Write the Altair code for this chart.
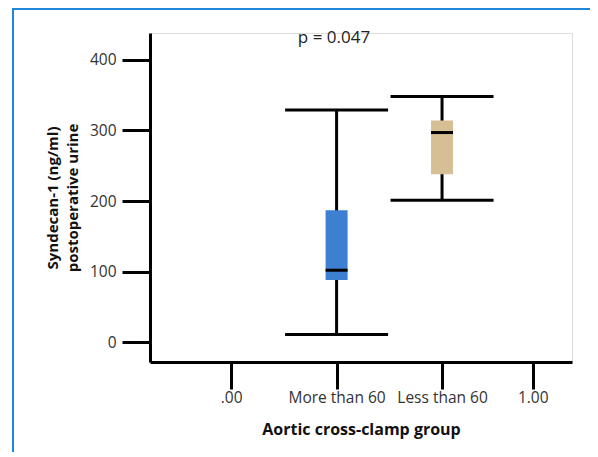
import altair as alt
import pandas as pd

# ---- data ----
groups = ["More than 60", "Less than 60"]
group_pos = [1, 2]
whisker_low = [11, 201]
q1 = [88, 238]
median = [102, 297]
q3 = [187, 314]
whisker_high = [329, 348]
box_colors = ["#3d7fd1", "#d6be95"]

x_tick_labels = [".00", "More than 60", "Less than 60", "1.00"]
x_tick_values = [0, 1, 2, 2.86]
y_tick_values = [0, 100, 200, 300, 400]
p_label = "p = 0.047"

df = pd.DataFrame({
    "group": groups, "pos": group_pos, "lo": whisker_low, "q1": q1,
    "med": median, "q3": q3, "hi": whisker_high,
})

W, H = 422, 329
FONT = "Open Sans"

label_expr = " : ".join(
    f"datum.value == {v} ? '{l}'" for v, l in zip(x_tick_values, x_tick_labels)
) + " : ''"

xscale = alt.Scale(domain=[-0.722, 3.185], nice=False, zero=False)
yscale = alt.Scale(domain=[-28, 438], nice=False, zero=False)

x_axis = alt.Axis(
    values=x_tick_values, labelExpr=label_expr, title="Aortic cross-clamp group",
    grid=False, domainColor="black", domainWidth=3, tickColor="black", tickWidth=3,
    tickSize=27, labelFontSize=15.5, labelColor="#333333", labelFont=FONT,
    labelPadding=1, titleFont=FONT, titleFontSize=16, titleFontWeight="bold",
    titleColor="#111", titlePadding=16, labelOverlap=False,
)
y_axis = alt.Axis(
    values=y_tick_values, title=["Syndecan-1 (ng/ml)", "postoperative urine"],
    grid=False, domainColor="black", domainWidth=3, tickColor="black", tickWidth=3,
    tickSize=28, labelFontSize=15.5, labelColor="#333333", labelFont=FONT,
    labelPadding=6, titleFont=FONT, titleFontSize=15, titleFontWeight="bold",
    titleColor="#111", titlePadding=9, titleLineHeight=20,
)

base = alt.Chart(df)

whisker = base.mark_rule(color="black", strokeWidth=3).encode(
    x=alt.X("pos:Q", scale=xscale, axis=x_axis),
    y=alt.Y("lo:Q", scale=yscale, axis=y_axis),
    y2="hi:Q",
)
cap_lo = base.mark_tick(orient="horizontal", size=103, thickness=3, color="black", opacity=1).encode(
    x=alt.X("pos:Q", scale=xscale), y=alt.Y("lo:Q", scale=yscale),
)
cap_hi = base.mark_tick(orient="horizontal", size=103, thickness=3, color="black", opacity=1).encode(
    x=alt.X("pos:Q", scale=xscale), y=alt.Y("hi:Q", scale=yscale),
)
box = base.mark_bar(size=22, opacity=1).encode(
    x=alt.X("pos:Q", scale=xscale),
    y=alt.Y("q1:Q", scale=yscale),
    y2="q3:Q",
    color=alt.Color("group:N", scale=alt.Scale(domain=groups, range=box_colors), legend=None),
)
med = base.mark_tick(orient="horizontal", size=22, thickness=3, color="black", opacity=1).encode(
    x=alt.X("pos:Q", scale=xscale), y=alt.Y("med:Q", scale=yscale),
)

ptext = alt.Chart(pd.DataFrame({"t": [p_label]})).mark_text(
    font=FONT, fontSize=17, color="#222", baseline="middle", align="center"
).encode(text="t:N", x=alt.value(184), y=alt.value(5))

frame_color = "#1f86d8"
frame_left = alt.Chart(pd.DataFrame({"a": [0]})).mark_rule(color=frame_color, strokeWidth=2).encode(
    x=alt.value(-137), y=alt.value(-24), y2=alt.value(H + 120)
)
frame_top = alt.Chart(pd.DataFrame({"a": [0]})).mark_rule(color=frame_color, strokeWidth=2).encode(
    y=alt.value(-24), x=alt.value(-138), x2=alt.value(W + 60)
)

chart = alt.layer(
    frame_left, frame_top, whisker, cap_lo, cap_hi, box, med, ptext
).properties(
    width=W, height=H,
    autosize=alt.AutoSizeParams(type="none"),
    padding={"left": 142, "top": 25, "right": 18, "bottom": 90},
).configure_view(stroke=None).configure(background="white")

chart.save("out.html", embed_options={"renderer": "svg", "actions": False})
